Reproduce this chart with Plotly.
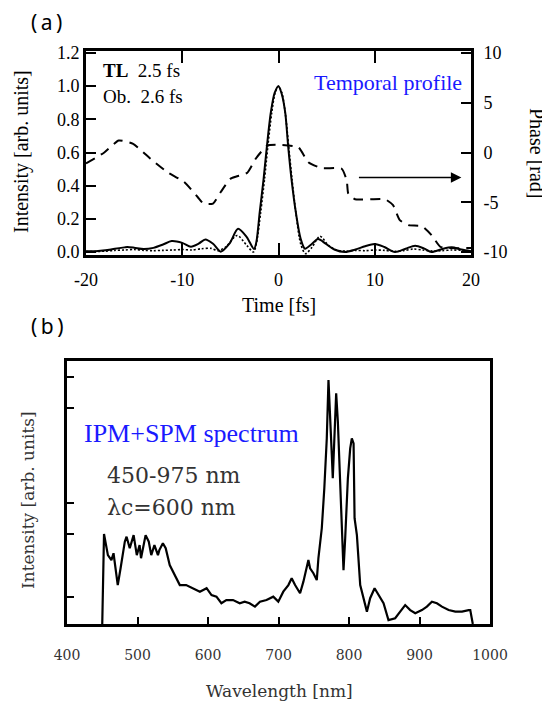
import plotly.graph_objects as go

# (a) temporal profile: measured (solid), transform-limited (dotted), phase (dashed)
time_obs = [-20, -19, -18, -17, -16, -15.7, -15, -14, -13, -12, -11.1, -10, -9.1, -8.3, -7.6, -6.8, -6.0,
            -5.1, -4.2, -3.3, -2.55, -2.3, -1.95, -1.55, -1.2, -0.8, -0.4, 0, 0.35, 0.7, 1.0, 1.35, 1.8,
            2.3, 2.75, 3.4, 4.1, 4.9, 5.8, 6.9, 8.0, 9.0, 10.0, 11.0, 12.1, 13.2, 14.2, 15.1, 15.9, 17.0,
            18.0, 19.0, 20]
int_obs = [0.005, 0.005, 0.01, 0.02, 0.028, 0.03, 0.026, 0.018, 0.025, 0.045, 0.066, 0.055, 0.032, 0.05,
           0.076, 0.05, 0.002, 0.05, 0.14, 0.09, 0.018, 0.06, 0.24, 0.44, 0.64, 0.84, 0.96, 1.0, 0.95,
           0.84, 0.64, 0.44, 0.24, 0.08, 0.02, 0.045, 0.078, 0.05, 0.015, 0.0, 0.015, 0.035, 0.048, 0.03,
           0.0, 0.02, 0.038, 0.022, 0.0, 0.018, 0.028, 0.015, 0.005]

time_tl = [-20, -18, -17, -16, -15, -14, -13, -12, -11, -10, -9, -8, -7, -6.3, -5.5, -4.3, -3.3, -2.6,
           -2.3, -1.85, -1.45, -1.1, -0.7, -0.35, 0, 0.35, 0.7, 1.05, 1.4, 1.8, 2.3, 2.8, 3.5, 4.3, 5.2,
           6.0, 7.0, 8.0, 9.0, 10.0, 11.0, 12.0, 13.0, 14.0, 15.0, 16.0, 17.0, 18.0, 19.0, 20]
int_tl = [0.003, 0.005, 0.01, 0.012, 0.015, 0.01, 0.008, 0.01, 0.012, 0.015, 0.012, 0.02, 0.022, 0.008,
          0.03, 0.1, 0.04, 0.0, 0.05, 0.24, 0.44, 0.64, 0.84, 0.96, 1.0, 0.96, 0.84, 0.64, 0.44, 0.24,
          0.05, -0.01, 0.03, 0.095, 0.04, 0.012, 0.005, 0.01, 0.008, 0.012, 0.01, 0.004, 0.008, 0.018,
          0.012, 0.006, 0.008, 0.012, 0.01, 0.004]

time_ph = [-20, -18.1, -16.6, -15.1, -13.3, -11.55, -9.8, -8.4, -7.8, -6.8, -6.0, -4.97, -3.24, -2.37,
           -1.17, 0.1, 2.06, 3.1, 4.49, 6.56, 7.09, 7.25, 7.95, 11.07, 11.9, 12.6, 13.5, 14.9, 15.9,
           16.8, 17.7, 20]
phase = [-1.1, 0.0, 1.2, 0.87, -0.63, -1.97, -2.97, -4.47, -5.13, -5.13, -3.97, -2.63, -2.03, -0.63,
         0.7, 0.77, 0.53, -0.97, -1.57, -1.63, -2.8, -4.13, -4.7, -4.7, -5.3, -6.8, -7.3, -7.4, -8.3,
         -9.47, -9.6, -9.6]

# (b) IPM+SPM spectrum (arb. units, 0..1 of the frame height)
wl = [450, 451, 452.5, 458, 463, 466, 472, 476, 482, 484.5, 489, 494.5, 499, 503, 505, 511.5, 516,
      519.5, 524, 529, 531, 536, 540, 545.7, 552.7, 560, 569, 579, 588.5, 598, 605, 612, 619, 626,
      635.5, 645, 652, 659, 666.6, 673.7, 683, 692.6, 699.7, 706.8, 714, 718.7, 723.5, 730.6, 735.3,
      742.4, 744.8, 749.5, 754.3, 756.6, 761.4, 765, 768.5, 770.9, 773.3, 775.6, 777, 780.4, 781.8,
      784.2, 787.5, 789.9, 792.2, 794.6, 798.4, 801.7, 804, 806.5, 807.9, 811.2, 815.9, 825.4, 830,
      836.3, 842, 849, 856, 865.5, 872.6, 879.7, 886.8, 894, 903.4, 910.5, 917.6, 924.7, 931.8, 941.3,
      950.8, 960.3, 969.7, 972, 975.6]
spec = [0.0, 0.2, 0.342, 0.262, 0.243, 0.269, 0.148, 0.212, 0.313, 0.332, 0.288, 0.338, 0.262, 0.30,
        0.25, 0.338, 0.313, 0.262, 0.30, 0.262, 0.281, 0.307, 0.288, 0.224, 0.186, 0.148, 0.148, 0.136,
        0.123, 0.136, 0.11, 0.104, 0.079, 0.091, 0.091, 0.079, 0.085, 0.079, 0.066, 0.085, 0.091, 0.104,
        0.085, 0.123, 0.148, 0.174, 0.148, 0.117, 0.161, 0.243, 0.212, 0.193, 0.167, 0.25, 0.364, 0.516,
        0.706, 0.928, 0.807, 0.643, 0.554, 0.782, 0.877, 0.769, 0.516, 0.351, 0.205, 0.326, 0.554, 0.668,
        0.706, 0.687, 0.402, 0.338, 0.148, 0.047, 0.098, 0.136, 0.11, 0.079, 0.015, 0.022, 0.047, 0.072,
        0.053, 0.041, 0.053, 0.066, 0.085, 0.079, 0.066, 0.053, 0.047, 0.047, 0.053, 0.053, 0.0]

int_ticks = [0, 0.2, 0.4, 0.6, 0.8, 1.0, 1.2]
int_labels = ["0.0", "0.2", "0.4", "0.6", "0.8", "1.0", "1.2"]
phase_ticks = [-10, -5, 0, 5, 10]
phase_labels = ["-10", "-5", "0", "5", "10"]
time_ticks = [-20, -10, 0, 10, 20]
time_labels = ["-20", "-10", "0", "10", "20"]
wl_ticks = [400, 500, 600, 700, 800, 900, 1000]
spec_ticks = [0.103, 0.342, 0.46, 0.821, 0.939]

# the page body has an 8px margin, so the figure is sized and placed to fill the window
OFF = 8
W, H = 550 - OFF, 706 - OFF
serif = "Liberation Serif, Times New Roman, serif"
cm = "DejaVu Serif, serif"


def px(x):
    return (x - OFF) / W


def py(y):
    return 1 - (y - OFF) / H


fig = go.Figure()
fig.add_trace(go.Scatter(x=time_tl, y=int_tl, mode="lines", xaxis="x", yaxis="y",
                         line=dict(color="black", width=1.6, dash="2px,2px", shape="spline", smoothing=0.8)))
fig.add_trace(go.Scatter(x=time_obs, y=int_obs, mode="lines", xaxis="x", yaxis="y",
                         line=dict(color="black", width=2, shape="spline", smoothing=0.8)))
fig.add_trace(go.Scatter(x=time_ph, y=phase, mode="lines", xaxis="x", yaxis="y2",
                         line=dict(color="black", width=2, dash="10px,7px", shape="spline", smoothing=0.5)))
fig.add_trace(go.Scatter(x=wl, y=spec, mode="lines", xaxis="x2", yaxis="y3",
                         line=dict(color="black", width=2.2)))

axis_common = dict(showline=True, linecolor="black", showgrid=False, zeroline=False, ticks="inside",
                   tickcolor="black", tickwidth=2, automargin=False)

fig.update_layout(
    width=W, height=H,
    margin=dict(l=0, r=0, t=0, b=0, pad=0, autoexpand=False),
    paper_bgcolor="white", plot_bgcolor="white",
    showlegend=False,
    xaxis=dict(axis_common, domain=[px(86), px(471)], anchor="y", range=[-20, 20], tickvals=time_ticks,
               ticktext=time_labels, ticklen=12, linewidth=3, mirror="ticks", ticklabelstandoff=6,
               tickfont=dict(family=serif, size=18, color="black")),
    yaxis=dict(axis_common, domain=[py(255), py(51)], anchor="x", range=[-0.018, 1.212],
               tickvals=int_ticks, ticktext=int_labels, ticklen=10, linewidth=3,
               tickfont=dict(family=serif, size=18, color="black")),
    yaxis2=dict(axis_common, overlaying="y", side="right", anchor="x", range=[-10.3, 10.2],
                tickvals=phase_ticks, ticktext=phase_labels, ticklen=10, linewidth=3, ticklabelstandoff=6,
                tickfont=dict(family=serif, size=18, color="black")),
    xaxis2=dict(axis_common, domain=[px(67), px(490)], anchor="y3", range=[400, 1000], tickvals=wl_ticks,
                ticklen=7, linewidth=3, mirror=True, ticklabelstandoff=16,
                tickfont=dict(family=cm, size=14, color="#333333")),
    yaxis3=dict(axis_common, domain=[py(624), py(361)], anchor="x2", range=[0, 1],
                tickvals=spec_ticks, showticklabels=False, ticklen=7, linewidth=3, mirror=True),
)


def note(text, x, y, size, family, color="black", xanchor="center", angle=0):
    fig.add_annotation(text=text, x=px(x), y=py(y), xref="paper", yref="paper", showarrow=False,
                       xanchor=xanchor, yanchor="middle", textangle=angle,
                       font=dict(family=family, size=size, color=color))


# panel (a)
note("(\u2009a\u2009)", 46, 22, 21, "Noto Sans")
note("<b>TL</b>&nbsp;&nbsp;2.5 fs", 101, 70, 19, serif, xanchor="left")
note("Ob.&nbsp;&nbsp;2.6 fs", 101, 97, 19, serif, xanchor="left")
note("Temporal profile", 464, 82, 22, serif, color="#1a1aff", xanchor="right")
note("Intensity [arb. units]", 21, 152, 20, serif, angle=-90)
note("Phase [rad]", 537, 153, 20, serif, angle=90)
note("Time [fs]", 279, 305, 20, serif)
fig.add_annotation(x=19.0, y=-2.5, ax=8.2, ay=-2.5, xref="x", yref="y2", axref="x", ayref="y2",
                   showarrow=True, arrowhead=2, arrowsize=1.4, arrowwidth=1.5, arrowcolor="black", text="")

# panel (b)
note("(\u2009b\u2009)", 47, 326, 21, "Noto Sans")
note("IPM+SPM spectrum", 82, 433, 26, serif, color="#1a1aff", xanchor="left")
note("450-975 nm", 105, 475, 22, cm, color="#333333", xanchor="left")
note("λc=600 nm", 105, 507, 22, cm, color="#333333", xanchor="left")
note("Intensity [arb. units]", 28, 500, 17, cm, color="#333333", angle=-90)
note("Wavelength [nm]", 279, 691, 17, cm, color="#333333")

fig.write_html("out.html")
